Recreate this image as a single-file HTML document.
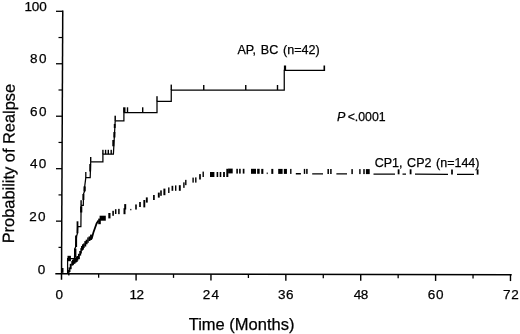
<!DOCTYPE html>
<html lang="en"><head><meta charset="utf-8"><title>Probability of Realpse</title>
<style>
html,body{margin:0;padding:0;background:#fff;}
body{width:520px;height:334px;overflow:hidden;}
svg{display:block;}
svg text{font-family:"Liberation Sans",Arial,Helvetica,sans-serif;fill:#000;stroke:#000;stroke-width:0.25px;}
</style></head><body>
<svg width="520" height="334" viewBox="0 0 520 334">
<rect x="0" y="0" width="520" height="334" fill="#fff"/>
<g id="axes">
<line x1="62.74816" y1="10.4" x2="61.50892" y2="279.8" stroke="#000" stroke-width="1.5"/>
<line x1="55.3" y1="273.85" x2="511.7" y2="274.67206000000004" stroke="#000" stroke-width="1.5"/>
<line x1="58.5" y1="247.37" x2="61.658098" y2="247.37" stroke="#000" stroke-width="1.2"/>
<line x1="56" y1="221.14000000000001" x2="61.778756" y2="221.14000000000001" stroke="#000" stroke-width="1.3"/>
<line x1="58.5" y1="194.91000000000003" x2="61.899414" y2="194.91000000000003" stroke="#000" stroke-width="1.2"/>
<line x1="56" y1="168.68" x2="62.020072" y2="168.68" stroke="#000" stroke-width="1.3"/>
<line x1="58.5" y1="142.45000000000002" x2="62.14073" y2="142.45000000000002" stroke="#000" stroke-width="1.2"/>
<line x1="56" y1="116.22" x2="62.261388" y2="116.22" stroke="#000" stroke-width="1.3"/>
<line x1="58.5" y1="89.99000000000001" x2="62.382046" y2="89.99000000000001" stroke="#000" stroke-width="1.2"/>
<line x1="56" y1="63.75999999999999" x2="62.502704" y2="63.75999999999999" stroke="#000" stroke-width="1.3"/>
<line x1="58.5" y1="37.53" x2="62.623362" y2="37.53" stroke="#000" stroke-width="1.2"/>
<line x1="56" y1="11.300000000000011" x2="62.74402" y2="11.300000000000011" stroke="#000" stroke-width="1.3"/>
<line x1="98.64" y1="273.928552" x2="98.64" y2="277.72855200000004" stroke="#000" stroke-width="1.3"/>
<line x1="136.07999999999998" y1="273.995944" x2="136.07999999999998" y2="280.395944" stroke="#000" stroke-width="1.4"/>
<line x1="173.52" y1="274.06333600000005" x2="173.52" y2="277.86333600000006" stroke="#000" stroke-width="1.3"/>
<line x1="210.95999999999998" y1="274.13072800000003" x2="210.95999999999998" y2="280.530728" stroke="#000" stroke-width="1.4"/>
<line x1="248.40000000000003" y1="274.19812" x2="248.40000000000003" y2="277.99812000000003" stroke="#000" stroke-width="1.3"/>
<line x1="285.84000000000003" y1="274.265512" x2="285.84000000000003" y2="280.665512" stroke="#000" stroke-width="1.4"/>
<line x1="323.28" y1="274.33290400000004" x2="323.28" y2="278.13290400000005" stroke="#000" stroke-width="1.3"/>
<line x1="360.71999999999997" y1="274.400296" x2="360.71999999999997" y2="280.800296" stroke="#000" stroke-width="1.4"/>
<line x1="398.16" y1="274.467688" x2="398.16" y2="278.267688" stroke="#000" stroke-width="1.3"/>
<line x1="435.6" y1="274.53508000000005" x2="435.6" y2="280.93508" stroke="#000" stroke-width="1.4"/>
<line x1="473.04" y1="274.60247200000003" x2="473.04" y2="278.40247200000005" stroke="#000" stroke-width="1.3"/>
<line x1="510.48" y1="274.669864" x2="510.48" y2="281.069864" stroke="#000" stroke-width="1.4"/>
</g>
<g id="curve-ap-bc">
<polyline fill="none" stroke="#000" stroke-width="1.25" stroke-linejoin="miter" points="67.6,273 67.6,258.5 74.5,258.5 74.8,249 75.6,247 76.6,236 77.3,234 77.6,226.5 80.9,226.5 81.1,205.3 83.3,205.3 83.5,194 84.4,191.5 84.7,186.4 85.8,177.6 90.2,177.6 90.7,161.8 102.9,161.8 102.9,154.2 113.4,154.2 115.2,120.75 123.9,120.75 123.9,112.5 157,112.5 157,101.25 171.25,101.25 171.25,90 284.25,90 284.25,70.4 324.5,70.4"/>
<rect x="90.00" y="157.00" width="1.40" height="4.80" fill="#000"/>
<rect x="102.20" y="149.80" width="1.40" height="4.40" fill="#000"/>
<rect x="104.90" y="149.80" width="1.40" height="4.40" fill="#000"/>
<rect x="107.60" y="149.80" width="1.40" height="4.40" fill="#000"/>
<rect x="110.50" y="149.80" width="1.40" height="4.40" fill="#000"/>
<rect x="114.45" y="115.70" width="1.50" height="5.05" fill="#000"/>
<rect x="123.10" y="107.30" width="2.40" height="5.20" fill="#000"/>
<rect x="126.80" y="107.30" width="1.40" height="5.20" fill="#000"/>
<rect x="142.00" y="107.30" width="1.40" height="5.20" fill="#000"/>
<rect x="156.30" y="96.20" width="1.40" height="5.05" fill="#000"/>
<rect x="170.55" y="84.60" width="1.40" height="5.40" fill="#000"/>
<rect x="203.05" y="85.00" width="1.40" height="5.00" fill="#000"/>
<rect x="245.05" y="85.00" width="1.40" height="5.00" fill="#000"/>
<rect x="276.80" y="85.00" width="1.40" height="5.00" fill="#000"/>
<rect x="283.90" y="65.50" width="2.20" height="4.90" fill="#000"/>
<rect x="323.50" y="65.50" width="1.60" height="5.50" fill="#000"/>
<rect x="85.15" y="172.00" width="1.30" height="5.60" fill="#000"/>
<rect x="67.50" y="255.80" width="3.40" height="5.40" fill="#000"/>
<rect x="74.00" y="248.60" width="2.40" height="9.00" fill="#000"/>
<rect x="75.10" y="235.50" width="2.00" height="11.50" fill="#000"/>
<rect x="76.60" y="221.30" width="1.80" height="12.00" fill="#000"/>
<rect x="80.10" y="206.30" width="2.20" height="6.20" fill="#000"/>
<rect x="80.40" y="200.20" width="1.40" height="5.10" fill="#000"/>
<rect x="82.45" y="194.00" width="1.90" height="6.00" fill="#000"/>
<rect x="83.50" y="186.40" width="2.20" height="5.00" fill="#000"/>
<rect x="89.30" y="164.00" width="1.80" height="7.50" fill="#000"/>
<rect x="112.30" y="140.00" width="2.00" height="6.30" fill="#000"/>
<rect x="113.40" y="132.00" width="2.00" height="5.50" fill="#000"/>
<rect x="113.80" y="124.00" width="1.80" height="4.00" fill="#000"/>
<rect x="61.10" y="268.00" width="2.40" height="4.80" fill="#000"/>
</g>
<g id="curve-cp1-cp2">
<polyline fill="none" stroke="#000" stroke-width="1.8" points="91.6,239 93.4,232.5 96.6,223.5 98.5,220.5"/>
<rect x="68.05" y="270.00" width="1.50" height="5.40" fill="#000"/>
<rect x="68.55" y="267.40" width="1.90" height="4.60" fill="#000"/>
<rect x="69.75" y="263.80" width="1.90" height="5.40" fill="#000"/>
<rect x="71.25" y="261.10" width="1.50" height="4.60" fill="#000"/>
<rect x="72.00" y="259.75" width="1.90" height="5.40" fill="#000"/>
<rect x="72.95" y="259.20" width="1.90" height="4.60" fill="#000"/>
<rect x="74.10" y="258.15" width="1.50" height="5.40" fill="#000"/>
<rect x="74.85" y="257.90" width="1.90" height="4.60" fill="#000"/>
<rect x="75.75" y="256.55" width="1.90" height="5.40" fill="#000"/>
<rect x="76.85" y="256.00" width="1.50" height="4.60" fill="#000"/>
<rect x="77.95" y="253.80" width="1.90" height="5.40" fill="#000"/>
<rect x="79.25" y="251.00" width="1.90" height="4.60" fill="#000"/>
<rect x="80.35" y="248.10" width="1.50" height="5.40" fill="#000"/>
<rect x="81.05" y="246.00" width="1.90" height="4.60" fill="#000"/>
<rect x="82.00" y="244.30" width="1.90" height="5.40" fill="#000"/>
<rect x="83.15" y="243.40" width="1.50" height="4.60" fill="#000"/>
<rect x="84.32" y="241.13" width="1.90" height="5.40" fill="#000"/>
<rect x="85.68" y="239.67" width="1.90" height="4.60" fill="#000"/>
<rect x="87.25" y="237.40" width="1.50" height="5.40" fill="#000"/>
<rect x="88.55" y="236.40" width="1.90" height="4.60" fill="#000"/>
<rect x="90.05" y="234.60" width="1.90" height="5.40" fill="#000"/>
<rect x="99.60" y="215.70" width="6.20" height="5.00" fill="#000"/>
<rect x="98.20" y="218.60" width="2.60" height="5.60" fill="#000"/>
<rect x="108.30" y="213.00" width="2.20" height="5.40" fill="#000"/>
<rect x="112.30" y="210.80" width="1.60" height="5.00" fill="#000"/>
<rect x="114.95" y="209.20" width="1.50" height="4.80" fill="#000"/>
<rect x="118.15" y="208.85" width="1.50" height="5.30" fill="#000"/>
<rect x="123.50" y="208.20" width="2.00" height="6.00" fill="#000"/>
<rect x="124.20" y="204.10" width="2.00" height="5.40" fill="#000"/>
<rect x="130.25" y="208.90" width="1.10" height="1.40" fill="#000"/>
<rect x="135.20" y="204.45" width="1.60" height="5.10" fill="#000"/>
<rect x="139.15" y="202.00" width="1.70" height="5.00" fill="#000"/>
<rect x="143.35" y="200.00" width="1.90" height="7.40" fill="#000"/>
<rect x="145.85" y="197.40" width="1.90" height="5.20" fill="#000"/>
<rect x="153.05" y="195.00" width="1.70" height="5.00" fill="#000"/>
<rect x="157.85" y="192.60" width="1.90" height="5.00" fill="#000"/>
<rect x="160.20" y="190.40" width="1.60" height="5.40" fill="#000"/>
<rect x="163.40" y="188.60" width="2.00" height="6.60" fill="#000"/>
<rect x="168.10" y="187.40" width="1.40" height="5.60" fill="#000"/>
<rect x="171.55" y="185.80" width="1.70" height="5.00" fill="#000"/>
<rect x="175.00" y="185.40" width="1.40" height="5.40" fill="#000"/>
<rect x="178.85" y="185.20" width="1.90" height="5.60" fill="#000"/>
<rect x="183.20" y="182.35" width="1.40" height="5.50" fill="#000"/>
<rect x="185.10" y="179.85" width="1.40" height="5.30" fill="#000"/>
<rect x="192.40" y="177.60" width="1.40" height="5.00" fill="#000"/>
<rect x="195.10" y="177.40" width="1.40" height="5.20" fill="#000"/>
<rect x="199.15" y="174.10" width="1.70" height="5.40" fill="#000"/>
<rect x="202.50" y="171.60" width="1.40" height="5.40" fill="#000"/>
<rect x="210.00" y="172.00" width="4.40" height="5.00" fill="#000"/>
<rect x="216.60" y="172.00" width="1.60" height="5.00" fill="#000"/>
<rect x="219.70" y="172.00" width="1.60" height="5.00" fill="#000"/>
<rect x="223.10" y="172.00" width="1.80" height="5.00" fill="#000"/>
<rect x="226.30" y="168.80" width="2.00" height="8.20" fill="#000"/>
<rect x="228.10" y="168.60" width="4.60" height="4.80" fill="#000"/>
<rect x="236.30" y="168.80" width="1.60" height="4.80" fill="#000"/>
<rect x="239.10" y="168.80" width="1.60" height="4.80" fill="#000"/>
<rect x="242.75" y="168.80" width="1.70" height="4.80" fill="#000"/>
<rect x="251.00" y="168.80" width="5.00" height="5.00" fill="#000"/>
<rect x="257.15" y="168.80" width="2.50" height="5.00" fill="#000"/>
<rect x="261.25" y="168.90" width="2.10" height="5.00" fill="#000"/>
<rect x="266.70" y="172.50" width="1.00" height="1.60" fill="#000"/>
<rect x="271.30" y="168.90" width="2.00" height="5.00" fill="#000"/>
<rect x="278.20" y="168.90" width="4.40" height="5.00" fill="#000"/>
<rect x="283.85" y="168.90" width="3.10" height="5.00" fill="#000"/>
<rect x="290.10" y="168.90" width="1.40" height="5.00" fill="#000"/>
<rect x="303.80" y="168.90" width="1.40" height="5.00" fill="#000"/>
<rect x="306.15" y="168.90" width="1.50" height="5.00" fill="#000"/>
<rect x="327.45" y="169.00" width="1.50" height="5.00" fill="#000"/>
<rect x="330.15" y="169.00" width="1.50" height="5.00" fill="#000"/>
<rect x="351.35" y="169.10" width="1.50" height="5.00" fill="#000"/>
<rect x="359.20" y="169.10" width="1.40" height="5.00" fill="#000"/>
<rect x="363.25" y="169.10" width="1.50" height="5.00" fill="#000"/>
<rect x="365.90" y="169.10" width="3.80" height="5.00" fill="#000"/>
<rect x="397.70" y="169.30" width="1.80" height="5.00" fill="#000"/>
<rect x="409.70" y="169.30" width="1.80" height="5.00" fill="#000"/>
<rect x="451.15" y="169.50" width="1.70" height="5.00" fill="#000"/>
<rect x="476.70" y="169.40" width="1.80" height="5.20" fill="#000"/>
<line x1="295.8" y1="173.7332" x2="300.9" y2="173.7485" stroke="#000" stroke-width="1.3"/>
<line x1="312.2" y1="173.7988" x2="323" y2="173.8312" stroke="#000" stroke-width="1.3"/>
<line x1="336.4" y1="173.8956" x2="347" y2="173.9274" stroke="#000" stroke-width="1.3"/>
<line x1="373.5" y1="174.044" x2="395" y2="174.10850000000002" stroke="#000" stroke-width="1.3"/>
<line x1="402.5" y1="174.16" x2="406" y2="174.1705" stroke="#000" stroke-width="1.3"/>
<line x1="415" y1="174.21" x2="448" y2="174.309" stroke="#000" stroke-width="1.3"/>
<line x1="457" y1="174.378" x2="474" y2="174.42899999999997" stroke="#000" stroke-width="1.3"/>
</g>
<g id="labels">
<text x="24.50 31.65 39.20" y="10.60" font-size="13.5">100</text>
<text x="29.90 39.00" y="63.41" font-size="13.5">80</text>
<text x="29.90 39.00" y="115.92" font-size="13.5">60</text>
<text x="29.95 38.85" y="168.38" font-size="13.5">40</text>
<text x="29.30 37.90" y="221.04" font-size="13.5">20</text>
<text x="37.70" y="273.80" font-size="13.5">0</text>
<text x="55.45" y="299.10" font-size="13.5">0</text>
<text x="129.40 136.40" y="298.95" font-size="13.5">12</text>
<text x="202.70 211.40" y="299.05" font-size="13.5">24</text>
<text x="278.10 286.00" y="299.40" font-size="13.5">36</text>
<text x="353.70 360.70" y="299.20" font-size="13.5">48</text>
<text x="427.65 435.90" y="299.35" font-size="13.5">60</text>
<text x="503.00 511.20" y="299.40" font-size="13.5">72</text>
<text x="237.5" y="53.65" font-size="12.55" text-anchor="start" word-spacing="1.25">AP, BC (n=42)</text>
<text x="374.7" y="167.35" font-size="12.5" text-anchor="start" word-spacing="1.15">CP1, CP2 (n=144)</text>
<text x="337" y="121.3" font-size="12.5"><tspan font-style="italic">P</tspan><tspan dx="2.3" font-size="12.3">&lt;.0001</tspan></text>
<text x="241.6" y="330.00" font-size="16.5" text-anchor="middle" >Time (Months)</text>
<text transform="translate(14.4,163.6) rotate(-89.7)" font-size="16.4" text-anchor="middle">Probability of Realpse</text>
</g>
</svg>
</body></html>
